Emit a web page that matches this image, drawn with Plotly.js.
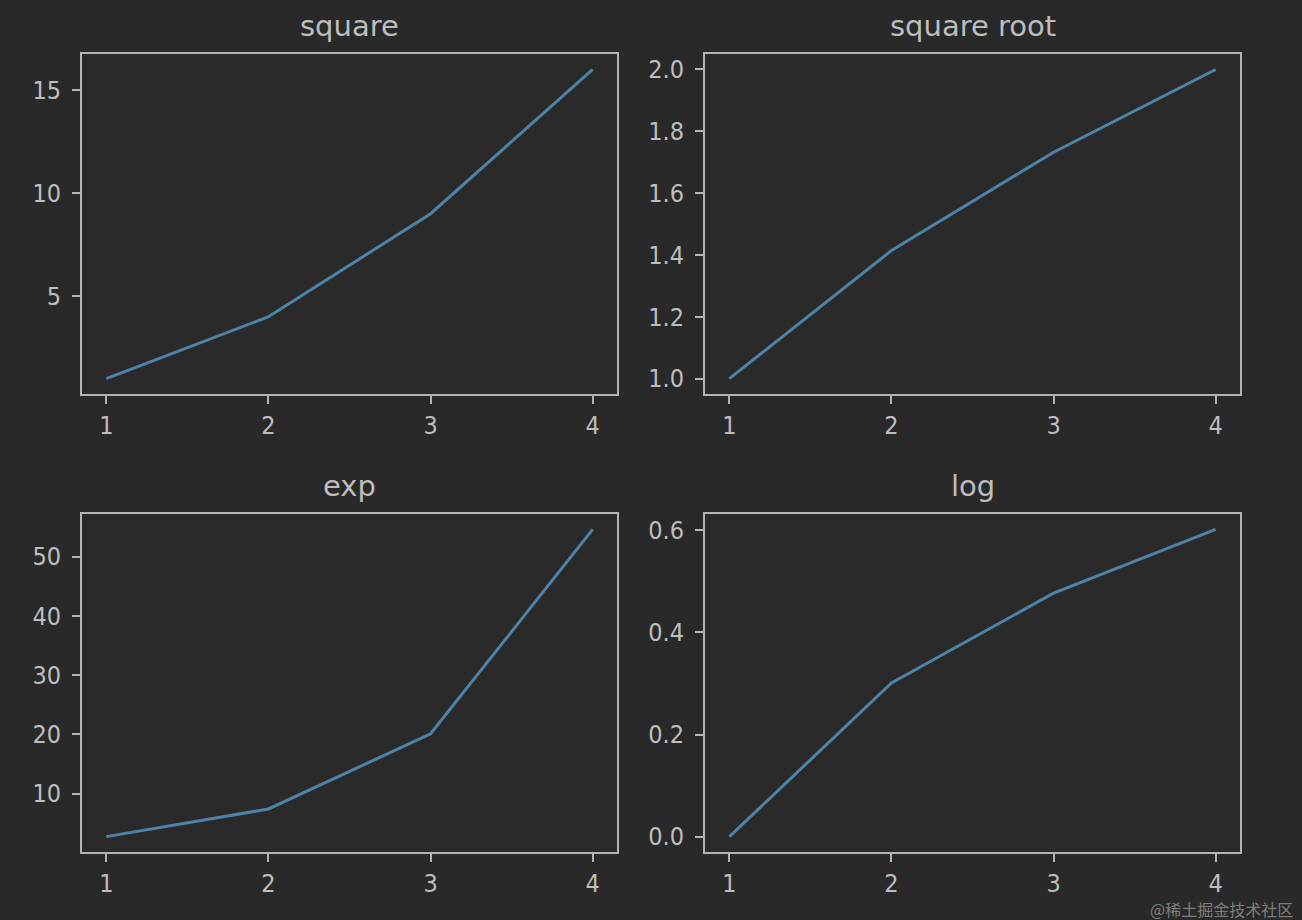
<!DOCTYPE html>
<html>
<head>
<meta charset="utf-8">
<script src="https://cdn.plot.ly/plotly-3.0.1.min.js"></script>
<style>
html,body{margin:0;padding:0;background:#292929;}
#chart{width:1302px;height:920px;}
</style>
</head>
<body>
<div id="chart"></div>
<script>
const xValues = [1, 2, 3, 4];
const squareValues = [1, 4, 9, 16];
const sqrtValues = [1, 1.4142, 1.7321, 2];
const expValues = [2.7183, 7.3891, 20.0855, 54.5982];
const logValues = [0, 0.30103, 0.47712, 0.60206];
const titles = ["square", "square root", "exp", "log"];
const xTicks = [1, 2, 3, 4];
const squareTicks = [5, 10, 15];
const sqrtTicks = [1.0, 1.2, 1.4, 1.6, 1.8, 2.0];
const expTicks = [10, 20, 30, 40, 50];
const logTicks = [0.0, 0.2, 0.4, 0.6];

const lineColor = '#4e83a8';
const frame = '#b4b4b4';
const textCol = '#bdbdbd';
const tickFam = '"Liberation Sans Narrow", "DejaVu Sans Condensed", "Liberation Sans", sans-serif';
const titleFam = '"DejaVu Sans", sans-serif';

function pad(arr){ const mn=Math.min(...arr), mx=Math.max(...arr), d=(mx-mn)*0.05; return [mn-d, mx+d]; }

const series = [squareValues, sqrtValues, expValues, logValues];
const traces = series.map((ys,i)=>({
  x: xValues, y: ys, type:'scatter', mode:'lines',
  line:{color:lineColor, width:3},
  xaxis: i===0?'x':'x'+(i+1), yaxis: i===0?'y':'y'+(i+1),
  hoverinfo:'skip', showlegend:false
}));

const xd = [[0.0630,0.4739],[0.5415,0.9524],[0.0630,0.4739],[0.5415,0.9524]];
const yd = [[0.5717,0.9413],[0.5717,0.9413],[0.0739,0.4413],[0.0739,0.4413]];
const yTicks = [squareTicks, sqrtTicks, expTicks, logTicks];
const yFmt = ['d', '.1f', 'd', '.1f'];

const layout = {
  width:1302, height:920,
  margin:{l:0,r:0,t:0,b:0},
  paper_bgcolor:'#292929', plot_bgcolor:'#2a2a2a',
  font:{family:tickFam, color:textCol, size:25},
  annotations:[], showlegend:false
};

function axBase(){
  return {showline:true, mirror:true, linecolor:frame, linewidth:2,
    ticks:'outside', ticklen:8, tickwidth:2, tickcolor:frame,
    showgrid:false, zeroline:false, tickfont:{family:tickFam,color:textCol,size:25},
    fixedrange:true};
}

for(let i=0;i<4;i++){
  const sx = i===0?'':(i+1);
  const xa = axBase();
  xa.domain = xd[i]; xa.range = pad(xValues); xa.tickvals = xTicks; xa.anchor = 'y'+sx;
  xa.ticklabelstandoff = 0;
  const ya = axBase();
  ya.domain = yd[i]; ya.range = pad(series[i]); ya.tickvals = yTicks[i]; ya.tickformat = yFmt[i]; ya.anchor = 'x'+sx;
  ya.ticklabelstandoff = 6;
  layout['xaxis'+sx] = xa;
  layout['yaxis'+sx] = ya;
  layout.annotations.push({
    text: titles[i], xref:'paper', yref:'paper',
    x:(xd[i][0]+xd[i][1])/2, y:yd[i][1], yshift:9,
    xanchor:'center', yanchor:'bottom', showarrow:false,
    font:{family:titleFam, size:29, color:textCol}
  });
}
layout.annotations.push({
  text:'@稀土掘金技术社区', xref:'paper', yref:'paper', x:0.995, y:0,
  xanchor:'right', yanchor:'bottom', yshift:-3, showarrow:false,
  font:{family:'"Noto Sans CJK SC", sans-serif', size:16, color:'rgba(200,200,200,0.55)'}
});

Plotly.newPlot('chart', traces, layout, {displayModeBar:false, staticPlot:true});
</script>
</body>
</html>
